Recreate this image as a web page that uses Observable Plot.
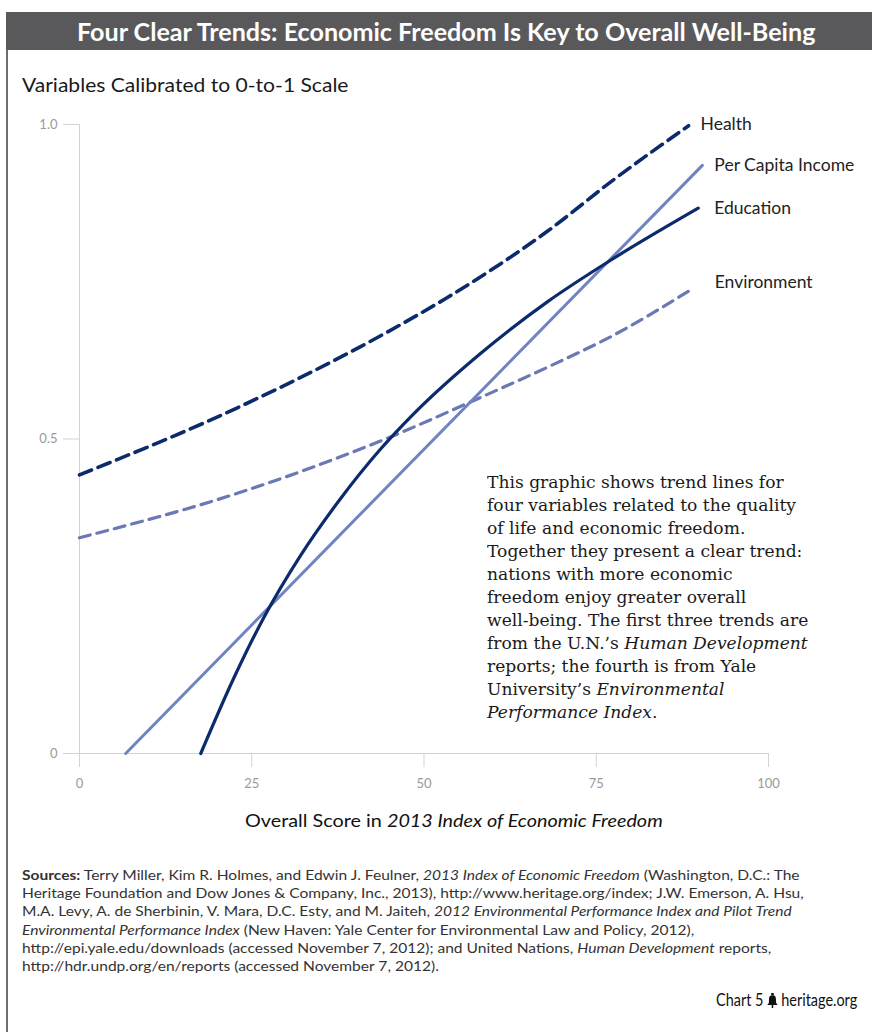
<!DOCTYPE html>
<html><head><meta charset="utf-8">
<script src="https://cdn.jsdelivr.net/npm/d3@7"></script>
<script src="https://cdn.jsdelivr.net/npm/@observablehq/plot@0.6"></script>
<style>
html,body{margin:0;padding:0;background:#fff;}
#page{position:relative;width:872px;height:1032px;overflow:hidden;font-family:Lato,"Open Sans",sans-serif;color:#222;background:#fff;}
.abs{position:absolute;white-space:nowrap;transform-origin:0 50%;display:inline-block;}
#border{position:absolute;left:6px;top:12px;width:2px;height:1020px;background:#6e6e6e;}
#bar{position:absolute;left:6px;top:12px;width:866px;height:38px;background:#59595b;}
#title{color:#fff;font-weight:700;font-size:25px;line-height:38px;top:12px;left:77px;}
#subtitle{font-size:19px;line-height:20px;top:75px;left:22px;color:#1a1a1a;}
#xlabel{font-size:18px;line-height:20px;top:810px;left:245px;color:#111;}
#chart{position:absolute;left:0;top:100px;}
.src{font-size:14px;line-height:18px;left:22px;color:#333;}
.ann{font-family:"DejaVu Serif",Georgia,serif;font-size:17px;line-height:23px;left:487px;color:#1a1a1a;}
#footer{font-size:17px;line-height:20px;top:990px;color:#111;}
#footer svg{vertical-align:-2px;margin:0 4px;}
</style></head>
<body>
<div id="page">
  <div id="border"></div>
  <div id="bar"></div>
  <span id="title" class="abs">Four Clear Trends: Economic Freedom Is Key to Overall Well-Being</span>
  <span id="subtitle" class="abs">Variables Calibrated to 0-to-1 Scale</span>
  <div id="chart"></div>
  <span id="xlabel" class="abs">Overall Score in <i>2013 Index of Economic Freedom</i></span>
  <div id="sources"></div>
  <div id="annotation"></div>
  <span id="footer" class="abs">Chart 5<svg width="13" height="15" viewBox="0 0 13 15"><path d="M5 0h3v2.5h-3z M6.5 2.2 C2.8 2.2 2.4 4.5 2.4 6.5 L2.2 10 L0.3 12 L12.7 12 L10.8 10 L10.6 6.5 C10.6 4.5 10.2 2.2 6.5 2.2 Z M5.6 12 h1.8 v3 h-1.8z" fill="#111"/></svg>heritage.org</span>
</div>
<script>
// ---- data ----
const seriesNames = ["Health", "Per Capita Income", "Education", "Environment"];
const xTicks = [0, 25, 50, 75, 100];
const yTicks = [0, 0.5, 1];

const healthX = [0, 23, 45, 53.4, 68, 77.5, 88.4];
const healthY = [0.443, 0.55, 0.672, 0.725, 0.831, 0.912, 0.998];

const incomeX = [6.7, 90.4];
const incomeY = [0, 0.935];

const educationX = [17.6, 22.4, 26.7, 32.1, 37.6, 43.7, 48.5, 58.2, 67.9, 77.5, 89.8];
const educationY = [0, 0.12, 0.215, 0.315, 0.401, 0.484, 0.54, 0.636, 0.718, 0.787, 0.867];

const environmentX = [0, 23, 44.4, 58.2, 67.9, 77.5, 89];
const environmentY = [0.343, 0.414, 0.5, 0.566, 0.614, 0.665, 0.739];

const sourceLines = [
  "<b>Sources:</b> Terry Miller, Kim R. Holmes, and Edwin J. Feulner, <i>2013 Index of Economic Freedom</i> (Washington, D.C.: The",
  "Heritage Foundation and Dow Jones &amp; Company, Inc., 2013), http://www.heritage.org/index; J.W. Emerson, A. Hsu,",
  "M.A. Levy, A. de Sherbinin, V. Mara, D.C. Esty, and M. Jaiteh, <i>2012 Environmental Performance Index and Pilot Trend</i>",
  "<i>Environmental Performance Index</i> (New Haven: Yale Center for Environmental Law and Policy, 2012),",
  "http://epi.yale.edu/downloads (accessed November 7, 2012); and United Nations, <i>Human Development</i> reports,",
  "http://hdr.undp.org/en/reports (accessed November 7, 2012)."
];

const annotationLines = [
  "This graphic shows trend lines for",
  "four variables related to the quality",
  "of life and economic freedom.",
  "Together they present a clear trend:",
  "nations with more economic",
  "freedom enjoy greater overall",
  "well-being. The first three trends are",
  "from the U.N.’s <i>Human Development</i>",
  "reports; the fourth is from Yale",
  "University’s <i>Environmental</i>",
  "<i>Performance Index</i>."
];

// ---- build rows ----
const rows = (xs, ys) => xs.map((x, i) => ({x, y: ys[i]}));
const health = rows(healthX, healthY);
const income = rows(incomeX, incomeY);
const education = rows(educationX, educationY);
const environment = rows(environmentX, environmentY);
const ends = [health, income, education, environment].map((r, i) => ({...r[r.length - 1], name: seriesNames[i]}));

const navy = "#0b2b6c";
const light = "#7084c2";
const envc = "#6a79b4";

const plot = Plot.plot({
  width: 872, height: 700,
  marginLeft: 79, marginRight: 104, marginTop: 24, marginBottom: 47,
  x: {domain: [0, 100]},
  y: {domain: [0, 1]},
  style: {background: "transparent", fontFamily: "Lato, sans-serif", overflow: "visible"},
  marks: [
    Plot.ruleX([0], {y1: 0, y2: 1, stroke: "#d3d3d3"}),
    Plot.ruleY([0], {x1: 0, x2: 100, stroke: "#d3d3d3"}),
    Plot.axisY({ticks: yTicks, tickFormat: d => d === 0 ? "0" : d.toFixed(1), tickSize: 16, tickPadding: 6, stroke: "#d3d3d3", fill: "#9a9a9a", fontSize: 13, label: null}),
    Plot.axisX({ticks: xTicks, tickSize: 14, tickPadding: 11, stroke: "#d3d3d3", fill: "#9a9a9a", fontSize: 13, label: null}),
    Plot.line(environment, {x: "x", y: "y", stroke: envc, strokeWidth: 3.2, strokeDasharray: "11,7", curve: "monotone-x"}),
    Plot.line(income, {x: "x", y: "y", stroke: light, strokeWidth: 3}),
    Plot.line(education, {x: "x", y: "y", stroke: navy, strokeWidth: 3.2, curve: "monotone-x"}),
    Plot.line(health, {x: "x", y: "y", stroke: navy, strokeWidth: 3.6, strokeDasharray: "13,7", curve: "monotone-x"}),
    Plot.text(ends, {x: "x", y: "y", text: "name", textAnchor: "start", lineAnchor: "middle", fill: "#222", fontSize: 17.5})
  ]
});
document.getElementById("chart").appendChild(plot);

// label offsets from line ends
const labelOffsets = [[12, -1], [12, 0], [16, 0], [22, -6]];
plot.querySelectorAll("g[aria-label='text'] text").forEach((t, i) => {
  const [dx, dy] = labelOffsets[i];
  const tr = t.getAttribute("transform") || "";
  t.setAttribute("transform", tr + ` translate(${dx},${dy})`);
});

// sources & annotation
const srcBox = document.getElementById("sources");
sourceLines.forEach((h, i) => {
  const s = document.createElement("span");
  s.className = "abs src"; s.innerHTML = h;
  s.style.top = (875 + i * 18.2 - 9) + "px";
  srcBox.appendChild(s);
});
const annBox = document.getElementById("annotation");
annotationLines.forEach((h, i) => {
  const s = document.createElement("span");
  s.className = "abs ann"; s.innerHTML = h;
  s.style.top = (482 + i * 23 - 11.5) + "px";
  annBox.appendChild(s);
});

function layout() {
  const fit = (el, w) => { el.style.transform = `scaleX(${w / el.offsetWidth})`; };
  fit(document.getElementById("title"), 738);
  fit(document.getElementById("subtitle"), 327);
  fit(document.getElementById("xlabel"), 418);
  const srcs = srcBox.querySelectorAll("span");
  const ks = 778 / srcs[0].offsetWidth;
  srcs.forEach(s => s.style.transform = `scaleX(${ks})`);
  const anns = annBox.querySelectorAll("span");
  const ka = 297 / anns[0].offsetWidth;
  anns.forEach(s => s.style.transform = `scaleX(${ka})`);
  const f = document.getElementById("footer");
  f.style.left = (857 - 141) + "px";
  fit(f, 141);
}
layout();
if (document.fonts && document.fonts.ready) document.fonts.ready.then(layout);
</script>
</body></html>
